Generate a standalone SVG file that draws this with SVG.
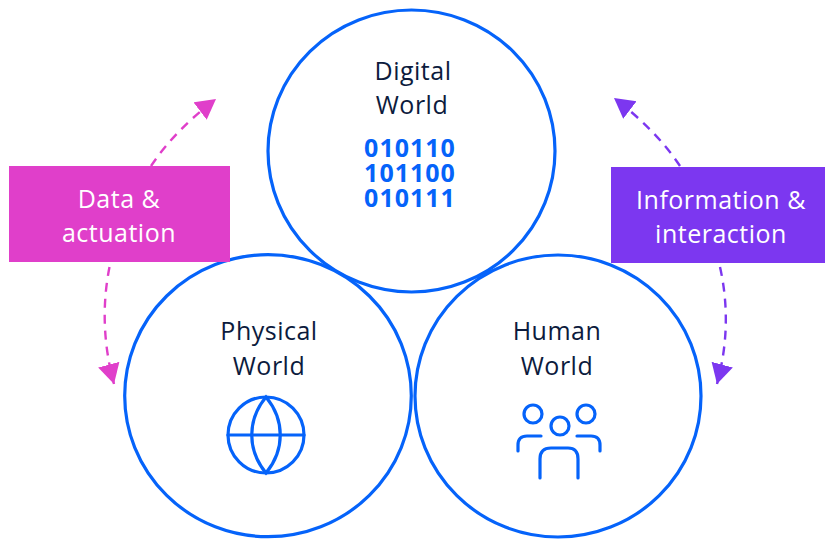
<svg xmlns="http://www.w3.org/2000/svg" width="825" height="539" viewBox="0 0 825 539">
<style>
.c{fill:#fff;stroke:#0563fa;stroke-width:3.2}
.t{font-family:"Open Sans","Noto Sans",sans-serif;font-size:25px;letter-spacing:.5px;fill:#0c1b3d;text-anchor:middle}
.w{font-family:"Open Sans","Noto Sans",sans-serif;font-size:25px;letter-spacing:.5px;fill:#fff;text-anchor:middle}
.b{font-family:"Open Sans","Noto Sans",sans-serif;font-size:25px;letter-spacing:1px;font-weight:700;fill:#0563fa;text-anchor:middle}
.i{fill:none;stroke:#0563fa;stroke-width:3.2;stroke-linecap:round}
.m{fill:none;stroke:#e03fca;stroke-width:2.4;stroke-dasharray:9 7}
.p{fill:none;stroke:#7c37f0;stroke-width:2.4;stroke-dasharray:9 7}
</style>
<defs>
<marker id="am" markerUnits="userSpaceOnUse" markerWidth="24" markerHeight="24" refX="20" refY="11" orient="auto"><path d="M0 0L20 11L0 22Z" fill="#e03fca"/></marker>
<marker id="ap" markerUnits="userSpaceOnUse" markerWidth="24" markerHeight="24" refX="20" refY="11" orient="auto"><path d="M0 0L20 11L0 22Z" fill="#7c37f0"/></marker>
</defs>
<g id="connectors">
<path class="m" d="M151 166Q175 130 216 99" marker-end="url(#am)"/>
<path class="m" d="M109.500 267Q98 325 114 384" marker-end="url(#am)"/>
<path class="p" d="M680 166Q656 130 614 98" marker-end="url(#ap)"/>
<path class="p" d="M720 267Q733 325 717 384" marker-end="url(#ap)"/>
</g>
<g id="digital-world">
<ellipse class="c" cx="411.500" cy="151" rx="143.500" ry="141"/>
<text class="t" x="413" y="80">Digital</text>
<text class="t" x="412" y="114">World</text>
<text class="b" x="410"><tspan x="410" y="157">010110</tspan><tspan x="410" y="182">101100</tspan><tspan x="410" y="207">010111</tspan></text>
</g>
<g id="physical-world">
<ellipse class="c" cx="268" cy="395.700" rx="143.300" ry="141"/>
<text class="t" x="269" y="340">Physical</text>
<text class="t" x="269" y="375">World</text>
<g class="i"><circle cx="266" cy="435" r="38"/><path d="M266 397C247 420 247 450 266 473C285 450 285 420 266 397Z"/><path d="M228 435H304"/></g>
</g>
<g id="human-world">
<ellipse class="c" cx="558" cy="396" rx="143" ry="141"/>
<text class="t" x="557" y="340">Human</text>
<text class="t" x="557" y="375">World</text>
<g class="i"><circle cx="533" cy="414" r="9"/><circle cx="560" cy="426" r="9"/><circle cx="586" cy="414" r="9"/>
<path d="M541 436H527Q518 436 518 445V451"/><path d="M577 436H591Q600 436 600 445V451"/><path d="M540 478V459Q540 448 551 448H568Q578 448 578 459V478"/></g>
</g>
<g id="data-actuation">
<rect x="9" y="166" width="221" height="96" fill="#e03fca"/>
<text class="w" x="119" y="208">Data &amp;</text>
<text class="w" x="119" y="242">actuation</text>
</g>
<g id="information-interaction">
<rect x="611" y="167" width="214" height="96" fill="#7c37f0"/>
<text class="w" x="721" y="209">Information &amp;</text>
<text class="w" x="721" y="243">interaction</text>
</g>
</svg>
